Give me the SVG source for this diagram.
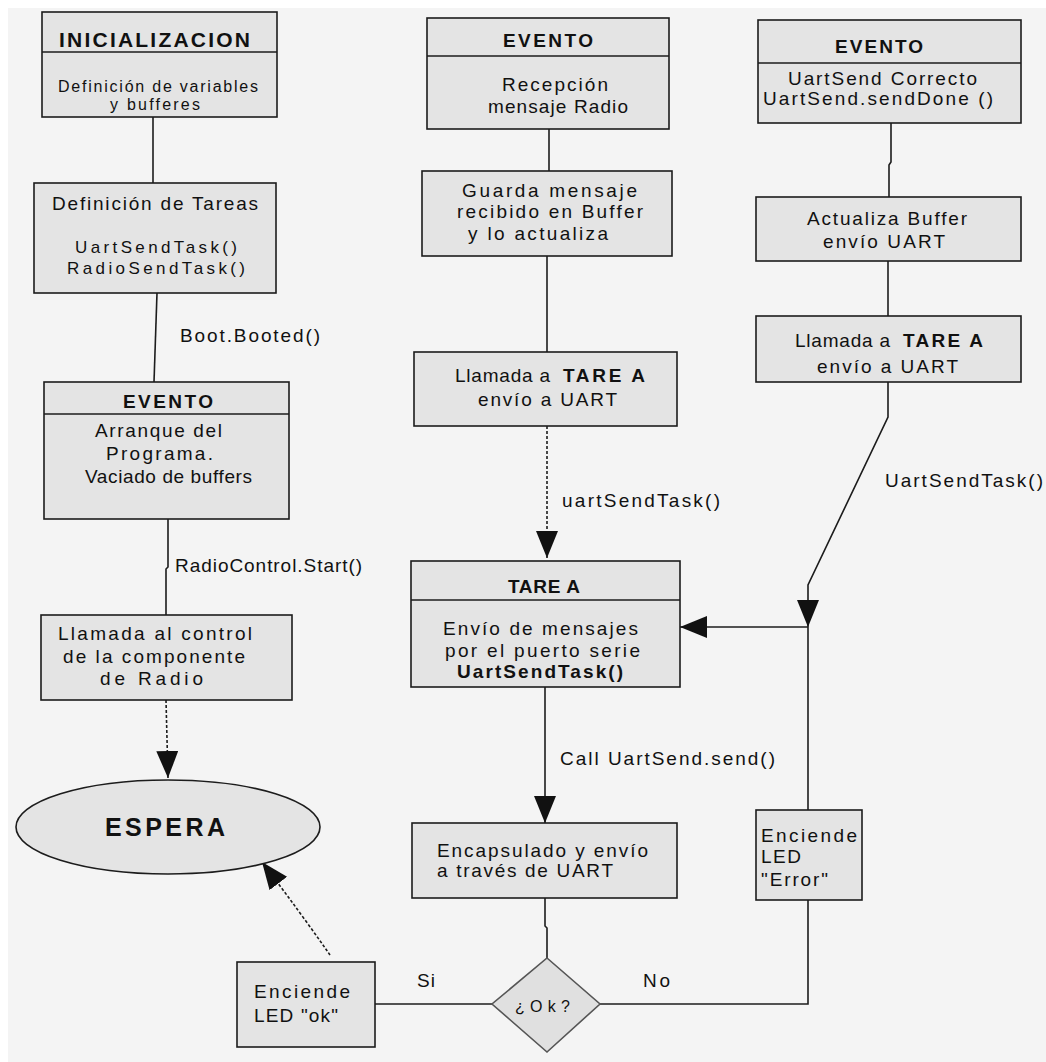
<svg xmlns="http://www.w3.org/2000/svg" width="1046" height="1062" viewBox="0 0 1046 1062">
<defs>
<style>
.bg{fill:#f4f4f4}
.box{fill:#e4e4e4;stroke:#1c1c1c;stroke-width:1.6}
.div{stroke:#1c1c1c;stroke-width:1.4;fill:none}
.ln{stroke:#1c1c1c;stroke-width:1.6;fill:none}
.dash{stroke:#1c1c1c;stroke-width:1.6;fill:none;stroke-dasharray:3 2}
text{font-family:"Liberation Sans",Arial,sans-serif;font-size:19px;fill:#111}
.b{font-weight:bold}
.h{font-weight:bold;font-size:19px}
.hi{font-weight:bold;font-size:21px}
.big{font-weight:bold;font-size:25px}
.sm{font-size:16px}
.md{font-size:17px}
</style>
<marker id="arr" markerUnits="userSpaceOnUse" markerWidth="28" markerHeight="24" refX="27" refY="11" orient="auto">
<path d="M0,0 L27,11 L0,22 z" fill="#111"/>
</marker>
</defs>
<rect x="0" y="0" width="1046" height="1062" fill="#ffffff"/>
<rect class="bg" x="8" y="8" width="1038" height="1054"/>

<g id="connectors">
<path class="ln" d="M153,117 L153,183"/>
<path class="ln" d="M157,293 L154,382"/>
<path class="ln" d="M168,519 L168,567 L166,569 L166,615"/>
<path class="dash" d="M166,700 L168,778" marker-end="url(#arr)"/>
<path class="ln" d="M549,129 L549,171"/>
<path class="ln" d="M547,256 L547,352"/>
<path class="dash" d="M547,426 L547,558" marker-end="url(#arr)"/>
<path class="ln" d="M545,687 L545,823" marker-end="url(#arr)"/>
<path class="ln" d="M545,898 L545,926 L547,928 L547,958"/>
<path class="ln" d="M891,123 L891,162 L889,165 L889,197"/>
<path class="ln" d="M888,261 L888,316"/>
<path class="ln" d="M888,382 L888,417 L808,585 L808,627" marker-end="url(#arr)"/>
<path class="ln" d="M808,627 L680,627" marker-end="url(#arr)"/>
<path class="ln" d="M808,627 L808,810"/>
<path class="ln" d="M808,900 L808,1004 L600,1004"/>
<path class="ln" d="M492,1004 L375,1004"/>
<path class="dash" d="M330,955 Q300,912 262,862" marker-end="url(#arr)"/>
<text x="180" y="342" textLength="140" lengthAdjust="spacing">Boot.Booted()</text>
<text x="175" y="572" textLength="187" lengthAdjust="spacing">RadioControl.Start()</text>
<text x="562" y="507" textLength="158" lengthAdjust="spacing">uartSendTask()</text>
<text x="885" y="487" textLength="158" lengthAdjust="spacing">UartSendTask()</text>
<text x="560" y="765" textLength="215" lengthAdjust="spacing">Call UartSend.send()</text>
<text x="417" y="987" textLength="18" lengthAdjust="spacing">Si</text>
<text x="643" y="987" textLength="27" lengthAdjust="spacing">No</text>
</g>

<g id="inicializacion">
<rect class="box" x="42" y="12" width="235" height="105"/>
<line class="div" x1="42" y1="52" x2="277" y2="52"/>
<text class="hi" x="59" y="47" textLength="191" lengthAdjust="spacing">INICIALIZACION</text>
<text class="sm" x="58" y="92" textLength="200" lengthAdjust="spacing">Definición de variables</text>
<text class="sm" x="110" y="110" textLength="90" lengthAdjust="spacing">y bufferes</text>
</g>

<g id="def-tareas">
<rect class="box" x="34" y="183" width="242" height="110"/>
<text x="52" y="210" textLength="206" lengthAdjust="spacing">Definición de Tareas</text>
<text class="md" x="75" y="253" textLength="162" lengthAdjust="spacing">UartSendTask()</text>
<text class="md" x="67" y="274" textLength="178" lengthAdjust="spacing">RadioSendTask()</text>
</g>

<g id="evento-arranque">
<rect class="box" x="44" y="382" width="245" height="137"/>
<line class="div" x1="44" y1="414" x2="289" y2="414"/>
<text class="h" x="123" y="408" textLength="90" lengthAdjust="spacing">EVENTO</text>
<text x="95" y="437" textLength="127" lengthAdjust="spacing">Arranque del</text>
<text x="106" y="460" textLength="107" lengthAdjust="spacing">Programa.</text>
<text x="85" y="483" textLength="167" lengthAdjust="spacing">Vaciado de buffers</text>
</g>

<g id="llamada-radio">
<rect class="box" x="41" y="615" width="251" height="85"/>
<text x="58" y="640" textLength="194" lengthAdjust="spacing">Llamada al control</text>
<text x="63" y="663" textLength="182" lengthAdjust="spacing">de la componente</text>
<text x="100" y="685" textLength="103" lengthAdjust="spacing">de Radio</text>
</g>

<g id="espera">
<ellipse class="box" cx="168" cy="827" rx="152" ry="47"/>
<text class="big" x="105" y="836" textLength="120" lengthAdjust="spacing">ESPERA</text>
</g>

<g id="led-ok">
<rect class="box" x="237" y="962" width="138" height="85"/>
<text x="254" y="998" textLength="96" lengthAdjust="spacing">Enciende</text>
<text x="254" y="1022" textLength="84" lengthAdjust="spacing">LED "ok"</text>
</g>

<g id="evento-radio">
<rect class="box" x="427" y="18" width="242" height="111"/>
<line class="div" x1="427" y1="56" x2="669" y2="56"/>
<text class="h" x="503" y="47" textLength="90" lengthAdjust="spacing">EVENTO</text>
<text x="502" y="91" textLength="106" lengthAdjust="spacing">Recepción</text>
<text x="488" y="113" textLength="140" lengthAdjust="spacing">mensaje Radio</text>
</g>

<g id="guarda">
<rect class="box" x="422" y="171" width="250" height="85"/>
<text x="462" y="197" textLength="175" lengthAdjust="spacing">Guarda mensaje</text>
<text x="457" y="218" textLength="186" lengthAdjust="spacing">recibido en Buffer</text>
<text x="468" y="240" textLength="140" lengthAdjust="spacing">y lo actualiza</text>
</g>

<g id="llamada-tarea-mid">
<rect class="box" x="414" y="352" width="263" height="74"/>
<text x="455" y="382" textLength="95" lengthAdjust="spacing">Llamada a</text>
<text class="b" x="563" y="382" textLength="82" lengthAdjust="spacing">TARE A</text>
<text x="478" y="406" textLength="139" lengthAdjust="spacing">envío a UART</text>
</g>

<g id="tarea">
<rect class="box" x="411" y="561" width="269" height="126"/>
<line class="div" x1="411" y1="600" x2="680" y2="600"/>
<text class="h" x="508" y="593" textLength="72" lengthAdjust="spacing">TARE A</text>
<text x="443" y="635" textLength="195" lengthAdjust="spacing">Envío de mensajes</text>
<text x="445" y="657" textLength="195" lengthAdjust="spacing">por el puerto serie</text>
<text class="b" x="457" y="678" textLength="166" lengthAdjust="spacing">UartSendTask()</text>
</g>

<g id="encapsulado">
<rect class="box" x="412" y="823" width="265" height="75"/>
<text x="437" y="857" textLength="211" lengthAdjust="spacing">Encapsulado y envío</text>
<text x="437" y="877" textLength="176" lengthAdjust="spacing">a través de UART</text>
</g>

<g id="ok-decision">
<polygon points="547,958 600,1004 547,1052 492,1004" fill="#e0e0e0" stroke="#555" stroke-width="1.6"/>
<text class="sm" x="515" y="1012" textLength="55" lengthAdjust="spacing">¿Ok?</text>
</g>

<g id="evento-senddone">
<rect class="box" x="758" y="20" width="263" height="103"/>
<line class="div" x1="758" y1="63" x2="1021" y2="63"/>
<text class="h" x="835" y="53" textLength="88" lengthAdjust="spacing">EVENTO</text>
<text x="788" y="85" textLength="189" lengthAdjust="spacing">UartSend Correcto</text>
<text x="763" y="105" textLength="230" lengthAdjust="spacing">UartSend.sendDone ()</text>
</g>

<g id="actualiza">
<rect class="box" x="756" y="197" width="265" height="64"/>
<text x="807" y="225" textLength="160" lengthAdjust="spacing">Actualiza Buffer</text>
<text x="823" y="248" textLength="122" lengthAdjust="spacing">envío UART</text>
</g>

<g id="llamada-tarea-right">
<rect class="box" x="756" y="316" width="265" height="66"/>
<text x="795" y="347" textLength="95" lengthAdjust="spacing">Llamada a</text>
<text class="b" x="903" y="347" textLength="80" lengthAdjust="spacing">TARE A</text>
<text x="817" y="373" textLength="141" lengthAdjust="spacing">envío a UART</text>
</g>

<g id="led-error">
<rect class="box" x="756" y="810" width="106" height="90"/>
<text x="761" y="842" textLength="96" lengthAdjust="spacing">Enciende</text>
<text x="761" y="863" textLength="40" lengthAdjust="spacing">LED</text>
<text x="761" y="886" textLength="67" lengthAdjust="spacing">"Error"</text>
</g>
</svg>
